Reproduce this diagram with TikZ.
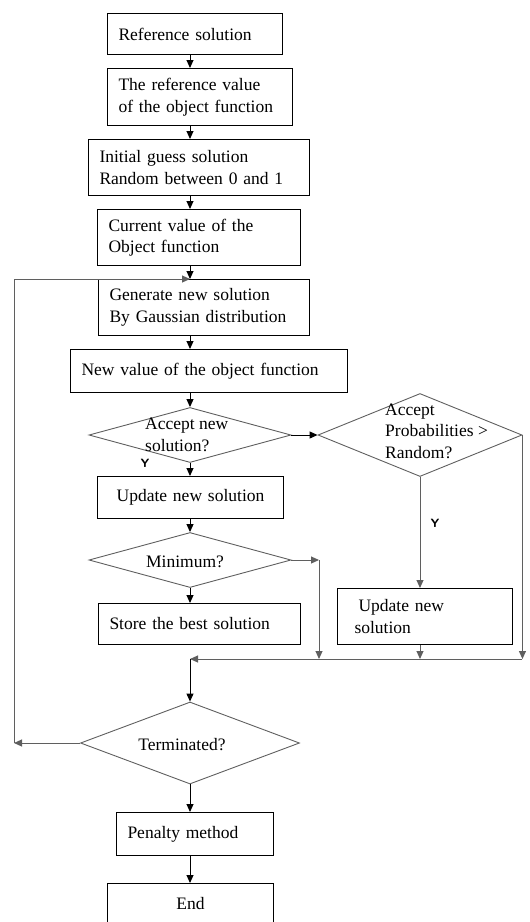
\documentclass[tikz,border=0pt]{standalone}
\usepackage{fontspec}
\setmainfont{Liberation Serif}
\usetikzlibrary{positioning,arrows.meta,shapes.geometric}
\definecolor{FlowGray}{RGB}{95,95,95}

\begin{document}
\begin{tikzpicture}[x=1pt, y=-1pt, font=\fontsize{17.5}{21.5}\selectfont]
\tikzset{
  stepbox/.style={draw, line width=1pt, anchor=north west, align=left, inner xsep=11pt, inner ysep=0pt},
  decision/.style={draw=FlowGray, line width=0.9pt, diamond, inner sep=0pt},
  dtext/.style={align=left, inner sep=0pt},
  arr/.style={-{Triangle[length=8pt,width=7pt]}, line width=1pt},
  garr/.style={arr, draw=FlowGray},
  ylab/.style={font=\fontsize{12}{12}\sffamily\bfseries, inner sep=0pt}
}
  \useasboundingbox (0,0) rectangle (530,922);
  \coordinate (spine) at (190,0);

  \node[stepbox, minimum height=41pt, text width=153pt] (ref) at (107,13) {Reference solution};
  \node[stepbox, minimum height=57pt, text width=163pt] (refval) at (107,68) {The reference value\\of the object function};
  \node[stepbox, minimum height=56pt, text width=199pt] (guess) at (88,139) {Initial guess solution\\Random between 0 and 1};
  \node[stepbox, minimum height=56pt, text width=181pt] (cur) at (97,209) {Current value of the\\Object function};
  \node[stepbox, minimum height=56pt, text width=189pt] (gen) at (98,279) {Generate new solution\\By Gaussian distribution};
  \node[stepbox, minimum height=43pt, text width=255pt] (newval) at (70,349) {New value of the object function};

  \node[decision, minimum width=202pt, minimum height=55pt] (accept) at (190,435) {};
  \node[dtext, anchor=west] (accepttxt) at (145,435) {Accept new\\solution?};
  \node[decision, minimum width=204pt, minimum height=83pt] (prob) at (420,435) {};
  \node[dtext, anchor=west] (probtxt) at (385,431) {Accept\\Probabilities >\\Random?};

  \node[stepbox, minimum height=42pt, text width=164pt, align=center] (upd) at (97,476) {Update new solution};
  \node[decision, minimum width=202pt, minimum height=55pt] (minq) at (190,560) {};
  \node[dtext] (mintxt) at (185,562) {Minimum?};
  \node[stepbox, minimum height=41pt, text width=180pt] (best) at (98,603) {Store the best solution};
  \node[stepbox, minimum height=56pt, text width=141pt, inner xsep=17pt] (upd2) at (337,588) {\hspace{4pt}Update new\\solution};

  \node[decision, minimum width=219pt, minimum height=82pt] (term) at (190,743) {};
  \node[dtext] (termtxt) at (182,745) {Terminated?};
  \node[stepbox, minimum height=43pt, text width=135pt] (pen) at (116,812) {Penalty method};
  \node[stepbox, minimum height=41pt, text width=144pt, align=center] (fin) at (107,883) {End};

  \node[ylab] (yes1) at (145,463) {Y};
  \node[ylab] (yes2) at (435,523) {Y};

  \coordinate (merge) at (190,659);
  \coordinate (minbend) at (319,560);
  \coordinate (loop) at (14,743);

  \draw[arr] (spine |- ref.south) -- (spine |- refval.north);
  \draw[arr] (spine |- refval.south) -- (spine |- guess.north);
  \draw[arr] (spine |- guess.south) -- (spine |- cur.north);
  \draw[arr] (spine |- cur.south) -- (spine |- gen.north);
  \draw[arr] (spine |- gen.south) -- (spine |- newval.north);
  \draw[arr] (spine |- newval.south) -- (accept.north);
  \draw[arr] (accept.south) -- (spine |- upd.north);
  \draw[arr] (spine |- upd.south) -- (minq.north);
  \draw[arr] (minq.south) -- (spine |- best.north);
  \draw[arr] (accept.east) -- (prob.west);
  \draw[garr] (prob.south) -- (prob.south |- upd2.north);
  \draw[garr] (upd2.south -| prob.south) -- (prob.south |- merge);
  \draw[garr] (minq.east) -- (minbend);
  \draw[garr] (minbend) -- (minbend |- merge);
  \draw[garr] (prob.east) -- (prob.east |- merge);
  \draw[garr] (prob.east |- merge) -- (merge);
  \draw[arr] (merge) -- (term.north);
  \draw[garr] (term.west) -- (loop);
  \draw[garr] (loop) |- (spine |- gen.north);
  \draw[arr] (term.south) -- (spine |- pen.north);
  \draw[arr] (spine |- pen.south) -- (spine |- fin.north);
\end{tikzpicture}
\end{document}
